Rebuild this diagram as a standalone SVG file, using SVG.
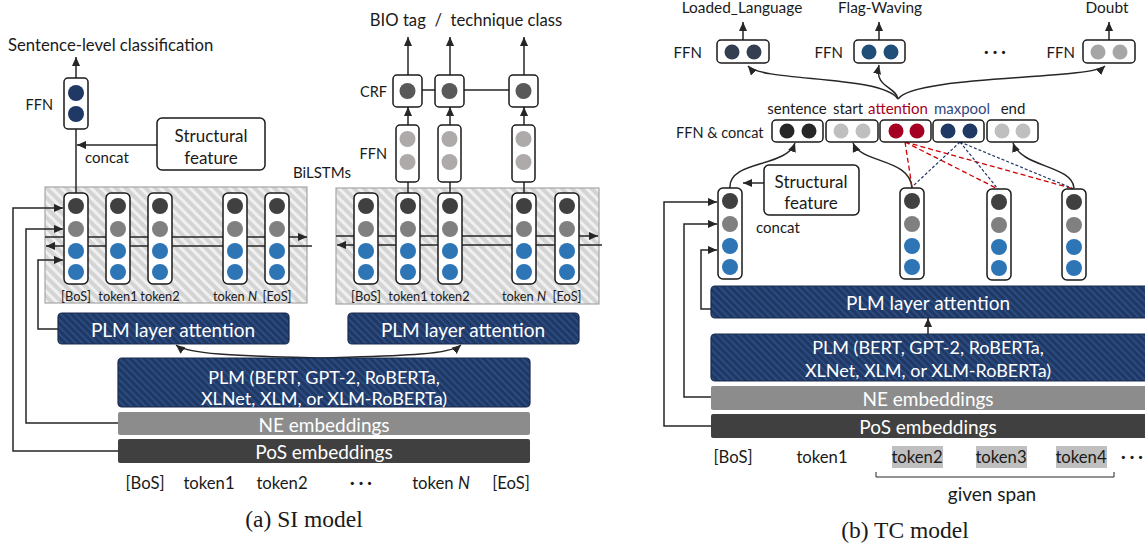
<svg xmlns="http://www.w3.org/2000/svg" xmlns:xlink="http://www.w3.org/1999/xlink" width="1145" height="548" viewBox="0 0 1145 548">
<style>
text{font-family:Lato,"Open Sans","Liberation Sans",sans-serif;fill:#1a1a1a}
.c{text-anchor:middle;dominant-baseline:central}
.s13{font-size:12.8px}
.s14{font-size:14.5px}
.s15{font-size:15px}
.s16{font-size:16.7px}
.s17{font-size:17px}
.w{fill:#fff;font-size:19px;text-anchor:middle;dominant-baseline:central}
.w2{font-size:18px}
.cap{font-family:"Liberation Serif","Times New Roman",serif;font-size:23.5px;text-anchor:middle}
.box{fill:#fff;stroke:#1a1a1a;stroke-width:1.5}
.ln{fill:none;stroke:#262626;stroke-width:1.5}
.ar{fill:none;stroke:#262626;stroke-width:1.5;marker-end:url(#ah)}
.navy{fill:url(#hn);stroke:#1a2b4c;stroke-width:1.2}
.gray{fill:url(#hg);stroke:#a6a6a6;stroke-width:1.2}
.rd{fill:none;stroke:#d00000;stroke-width:1.3;stroke-dasharray:5 3}
.bd{fill:none;stroke:#203864;stroke-width:1.2;stroke-dasharray:3 2}
</style>
<defs>
<marker id="ah" viewBox="0 0 10 10" refX="10" refY="5" markerWidth="9" markerHeight="9" markerUnits="userSpaceOnUse" orient="auto">
<path d="M0,0.5 L10,5 L0,9.5 z" fill="#262626"/>
</marker>
<pattern id="hg" patternUnits="userSpaceOnUse" width="7" height="7" patternTransform="rotate(-45)">
<rect width="7" height="7" fill="#d4d4d4"/><rect width="3" height="7" fill="#f0f0f0"/>
</pattern>
<pattern id="hn" patternUnits="userSpaceOnUse" width="5" height="5" patternTransform="rotate(-45)">
<rect width="5" height="5" fill="#1f3864"/><rect width="1.6" height="5" fill="#2e4f88"/>
</pattern>
<g id="col">
<rect x="-12" y="0" width="24" height="91" rx="5" class="box"/>
<circle cx="0" cy="13" r="8" fill="#404040"/>
<circle cx="0" cy="36" r="8" fill="#808080"/>
<circle cx="0" cy="58" r="8" fill="#2e75b6"/>
<circle cx="0" cy="79" r="8" fill="#2e75b6"/>
</g>
</defs>
<rect width="1145" height="548" fill="#fff"/>

<!-- ===== (a) SI model ===== -->
<g id="si-bilstm-left">
<rect x="45" y="187" width="262" height="116" class="gray"/>
</g>
<g id="si-bilstm-right">
<rect x="336" y="188" width="263" height="116" class="gray"/>
</g>

<g id="connectors">
<path class="ar" d="M45,237 H307"/>
<path class="ar" d="M312,246 H46"/>
<path class="ar" d="M336,236 H598"/>
<path class="ar" d="M602,245 H337"/>
<path class="ln" d="M76,193 V129"/>
<path class="ar" d="M76,78 V57"/>
<path class="ar" d="M157,145 H77"/>
<path class="ln" d="M408,193 V182"/>
<path class="ln" d="M450,193 V182"/>
<path class="ln" d="M524,193 V182"/>
<path class="ar" d="M408,125 V107"/>
<path class="ar" d="M450,125 V107"/>
<path class="ar" d="M524,125 V107"/>
<path class="ar" d="M408,75 V37"/>
<path class="ar" d="M450,75 V37"/>
<path class="ar" d="M524,75 V37"/>
<path class="ln" d="M422,90 H435 M464,90 H509"/>
<path class="ar" d="M118,451 H13 V208 H63"/>
<path class="ar" d="M118,423 H26 V229 H63"/>
<path class="ar" d="M58,329 H38 V260 H63"/>
<path class="ar" d="M322,358 C260,356 190,356 176,345"/>
<path class="ar" d="M322,358 C384,356 448,356 461,345"/>

<path class="ar" d="M743,40 V22"/>
<path class="ar" d="M879,40 V22"/>
<path class="ar" d="M1109,40 V22"/>
<path class="ar" d="M898,99 C882,75 762,82 748,66"/>
<path class="ar" d="M898,99 C896,86 874,88 879,65"/>
<path class="ar" d="M898,99 C914,75 1090,80 1105,66"/>
<path class="ar" d="M730,188 C728,160 786,168 795,143"/>
<path class="ar" d="M912,188 C910,158 862,164 853,143"/>
<path class="ar" d="M1074,188 C1072,165 1022,168 1013,143"/>
<path class="rd" d="M905,142 L912,187 M905,142 L998,189 M905,142 L1074,189"/>
<path class="bd" d="M960,142 L912,187 M960,142 L998,189 M960,142 L1074,189"/>
<path class="ar" d="M764,183 H743"/>
<path class="ar" d="M711,426 H664 V202 H717"/>
<path class="ar" d="M711,397 H684 V224 H717"/>
<path class="ar" d="M711,309 H701 V250 H717"/>
<path class="ar" d="M928,334 V318"/>
</g>

<g id="si-columns">
<use xlink:href="#col" href="#col" x="76" y="193"/>
<use xlink:href="#col" href="#col" x="118" y="193"/>
<use xlink:href="#col" href="#col" x="160" y="193"/>
<use xlink:href="#col" href="#col" x="235" y="193"/>
<use xlink:href="#col" href="#col" x="277" y="193"/>
<use xlink:href="#col" href="#col" x="366" y="193"/>
<use xlink:href="#col" href="#col" x="408" y="193"/>
<use xlink:href="#col" href="#col" x="450" y="193"/>
<use xlink:href="#col" href="#col" x="524" y="193"/>
<use xlink:href="#col" href="#col" x="567" y="193"/>
</g>
<g id="si-column-labels" class="s13">
<text class="c" x="76" y="296">[BoS]</text>
<text class="c" x="118" y="296">token1</text>
<text class="c" x="160" y="296">token2</text>
<text class="c" x="235" y="296">token <tspan font-style="italic">N</tspan></text>
<text class="c" x="277" y="296">[EoS]</text>
<text class="c" x="366" y="296">[BoS]</text>
<text class="c" x="408" y="296">token1</text>
<text class="c" x="450" y="296">token2</text>
<text class="c" x="524" y="296">token <tspan font-style="italic">N</tspan></text>
<text class="c" x="567" y="296">[EoS]</text>
</g>

<g id="si-sentence-ffn">
<rect x="64" y="78" width="24" height="51" rx="4" class="box"/>
<circle cx="76" cy="93" r="8" fill="#1f3864"/>
<circle cx="76" cy="114" r="8" fill="#1f3864"/>
<text class="s14" x="53" y="104" text-anchor="end" dominant-baseline="central">FFN</text>
</g>
<g id="si-title">
<text class="s16" x="8" y="51">Sentence-level classification</text>
</g>
<g id="si-structural">
<rect x="157" y="118" width="108" height="52" rx="5" class="box"/>
<text class="c s17" x="211" y="135">Structural</text>
<text class="c s17" x="211" y="157">feature</text>
<text class="s15" x="85" y="157" dominant-baseline="central">concat</text>
</g>
<g id="si-bilstm-label"><text class="s15" x="293" y="172" dominant-baseline="central">BiLSTMs</text></g>

<g id="si-token-ffn">
<rect x="396" y="125" width="23" height="57" rx="4" class="box"/>
<circle cx="407.5" cy="139" r="8" fill="#aeaaaa"/><circle cx="407.5" cy="162" r="8" fill="#aeaaaa"/>
<rect x="438" y="125" width="23" height="57" rx="4" class="box"/>
<circle cx="449.5" cy="139" r="8" fill="#aeaaaa"/><circle cx="449.5" cy="162" r="8" fill="#aeaaaa"/>
<rect x="512" y="125" width="23" height="57" rx="4" class="box"/>
<circle cx="523.5" cy="139" r="8" fill="#aeaaaa"/><circle cx="523.5" cy="162" r="8" fill="#aeaaaa"/>
<text class="s14" x="387" y="153" text-anchor="end" dominant-baseline="central">FFN</text>
</g>
<g id="si-crf">
<rect x="393" y="75" width="29" height="32" rx="4" class="box"/>
<circle cx="407.5" cy="91" r="8" fill="#595959"/>
<rect x="435" y="75" width="29" height="32" rx="4" class="box"/>
<circle cx="449.5" cy="91" r="8" fill="#595959"/>
<rect x="509" y="75" width="29" height="32" rx="4" class="box"/>
<circle cx="523.5" cy="91" r="8" fill="#595959"/>
<text class="s14" x="387" y="91" text-anchor="end" dominant-baseline="central">CRF</text>
</g>
<g id="si-output-label"><text class="c s16" x="466" y="20" xml:space="preserve">BIO tag  /  technique class</text></g>

<g id="si-layer-att-left">
<rect x="58" y="313" width="231" height="31" rx="4" class="navy"/>
<text class="w" x="173" y="329">PLM layer attention</text>
</g>
<g id="si-layer-att-right">
<rect x="348" y="313" width="231" height="31" rx="4" class="navy"/>
<text class="w" x="463" y="329">PLM layer attention</text>
</g>
<g id="si-plm">
<rect x="118" y="358" width="412" height="49" rx="4" class="navy"/>
<text class="w w2" x="324" y="376.5">PLM (BERT, GPT-2, RoBERTa,</text>
<text class="w w2" x="324" y="397.5">XLNet, XLM, or XLM-RoBERTa)</text>
</g>
<g id="si-ne">
<rect x="118" y="412" width="412" height="23" rx="2" fill="#8c8c8c"/>
<text class="w" x="324" y="424">NE embeddings</text>
</g>
<g id="si-pos">
<rect x="118" y="439" width="412" height="24" rx="2" fill="#404040"/>
<text class="w" x="324" y="451">PoS embeddings</text>
</g>
<g id="si-input-tokens" class="s16">
<text class="c" x="145" y="483">[BoS]</text>
<text class="c" x="209" y="483">token1</text>
<text class="c" x="282" y="483">token2</text>
<text class="c" x="361" y="483" font-weight="bold">· · ·</text>
<text class="c" x="441" y="483">token <tspan font-style="italic">N</tspan></text>
<text class="c" x="511" y="483">[EoS]</text>
</g>
<g id="si-caption"><text class="cap" x="304" y="527">(a) SI model</text></g>

<!-- ===== (b) TC model ===== -->
<g id="tc-output-ffn">
<text class="c" style="font-size:15.4px" x="742" y="7">Loaded_Language</text>
<text class="c" style="font-size:15.4px" x="880" y="7">Flag-Waving</text>
<text class="c" style="font-size:15.4px" x="1107" y="7">Doubt</text>
<rect x="717" y="40" width="52" height="23" rx="4" class="box"/>
<circle cx="732" cy="52" r="7.5" fill="#333f50"/><circle cx="754" cy="52" r="7.5" fill="#333f50"/>
<rect x="854" y="40" width="51" height="23" rx="4" class="box"/>
<circle cx="869" cy="52" r="7.5" fill="#1f4e79"/><circle cx="891" cy="52" r="7.5" fill="#1f4e79"/>
<rect x="1083" y="40" width="52" height="23" rx="4" class="box"/>
<circle cx="1098" cy="52" r="7.5" fill="#a6a6a6"/><circle cx="1120" cy="52" r="7.5" fill="#a6a6a6"/>
<text class="s15" x="702" y="52" text-anchor="end" dominant-baseline="central">FFN</text>
<text class="s15" x="843" y="52" text-anchor="end" dominant-baseline="central">FFN</text>
<text class="s15" x="1075" y="52" text-anchor="end" dominant-baseline="central">FFN</text>
<text class="c s16" x="995" y="52" font-weight="bold">· · ·</text>
</g>
<g id="tc-concat">
<text class="s14" x="676" y="132" dominant-baseline="central">FFN &amp; concat</text>
<text class="c s15" x="797" y="108">sentence</text>
<text class="c s15" x="848" y="108">start</text>
<text class="c s15" x="898" y="108" style="fill:#a50021">attention</text>
<text class="c s15" x="962" y="108" style="fill:#2f4a80">maxpool</text>
<text class="c s15" x="1013" y="108">end</text>
<rect x="772" y="120" width="51" height="22" rx="4" class="box"/>
<circle cx="787" cy="131" r="7.5" fill="#262626"/><circle cx="809" cy="131" r="7.5" fill="#262626"/>
<rect x="826" y="120" width="52" height="22" rx="4" class="box"/>
<circle cx="841" cy="131" r="7.5" fill="#bfbfbf"/><circle cx="863" cy="131" r="7.5" fill="#bfbfbf"/>
<rect x="880" y="120" width="51" height="22" rx="4" class="box"/>
<circle cx="896" cy="131" r="7.5" fill="#a50021"/><circle cx="917" cy="131" r="7.5" fill="#a50021"/>
<rect x="933" y="120" width="51" height="22" rx="4" class="box"/>
<circle cx="948" cy="131" r="7.5" fill="#1f3864"/><circle cx="970" cy="131" r="7.5" fill="#1f3864"/>
<rect x="987" y="120" width="51" height="22" rx="4" class="box"/>
<circle cx="1002" cy="131" r="7.5" fill="#bfbfbf"/><circle cx="1023" cy="131" r="7.5" fill="#bfbfbf"/>
</g>
<g id="tc-structural">
<rect x="764" y="165" width="95" height="50" rx="5" class="box"/>
<text class="c s17" x="811" y="181">Structural</text>
<text class="c s17" x="811" y="202">feature</text>
<text class="s15" x="756" y="227" dominant-baseline="central">concat</text>
</g>
<g id="tc-columns">
<use xlink:href="#col" href="#col" x="730" y="188"/>
<use xlink:href="#col" href="#col" x="912" y="188"/>
<use xlink:href="#col" href="#col" x="999" y="189"/>
<use xlink:href="#col" href="#col" x="1074" y="189"/>
</g>
<g id="tc-layer-att">
<rect x="711" y="286" width="440" height="32" rx="4" class="navy"/>
<text class="w" x="928" y="302">PLM layer attention</text>
</g>
<g id="tc-plm">
<rect x="711" y="334" width="440" height="47" rx="4" class="navy"/>
<text class="w w2" x="928" y="347">PLM (BERT, GPT-2, RoBERTa,</text>
<text class="w w2" x="928" y="370">XLNet, XLM, or XLM-RoBERTa)</text>
</g>
<g id="tc-ne">
<rect x="711" y="386" width="440" height="24" rx="2" fill="#8c8c8c"/>
<text class="w" x="928" y="398">NE embeddings</text>
</g>
<g id="tc-pos">
<rect x="711" y="414" width="440" height="24" rx="2" fill="#404040"/>
<text class="w" x="928" y="426">PoS embeddings</text>
</g>
<g id="tc-input-tokens" class="s16">
<rect x="892" y="446" width="51" height="22" fill="#bfbfbf"/>
<rect x="976" y="446" width="51" height="22" fill="#bfbfbf"/>
<rect x="1056" y="446" width="51" height="22" fill="#bfbfbf"/>
<text class="c" x="733" y="457">[BoS]</text>
<text class="c" x="822" y="457">token1</text>
<text class="c" x="917" y="457">token2</text>
<text class="c" x="1001" y="457">token3</text>
<text class="c" x="1081" y="457">token4</text>
<text x="1121" y="457" dominant-baseline="central" font-weight="bold">· · ·</text>
<path class="ln" d="M876,472 V477 H1114 V472" style="stroke-width:1"/>
<text class="c" x="992" y="493" style="font-size:19px">given span</text>
</g>
<g id="tc-caption"><text class="cap" x="905" y="538">(b) TC model</text></g>
</svg>
